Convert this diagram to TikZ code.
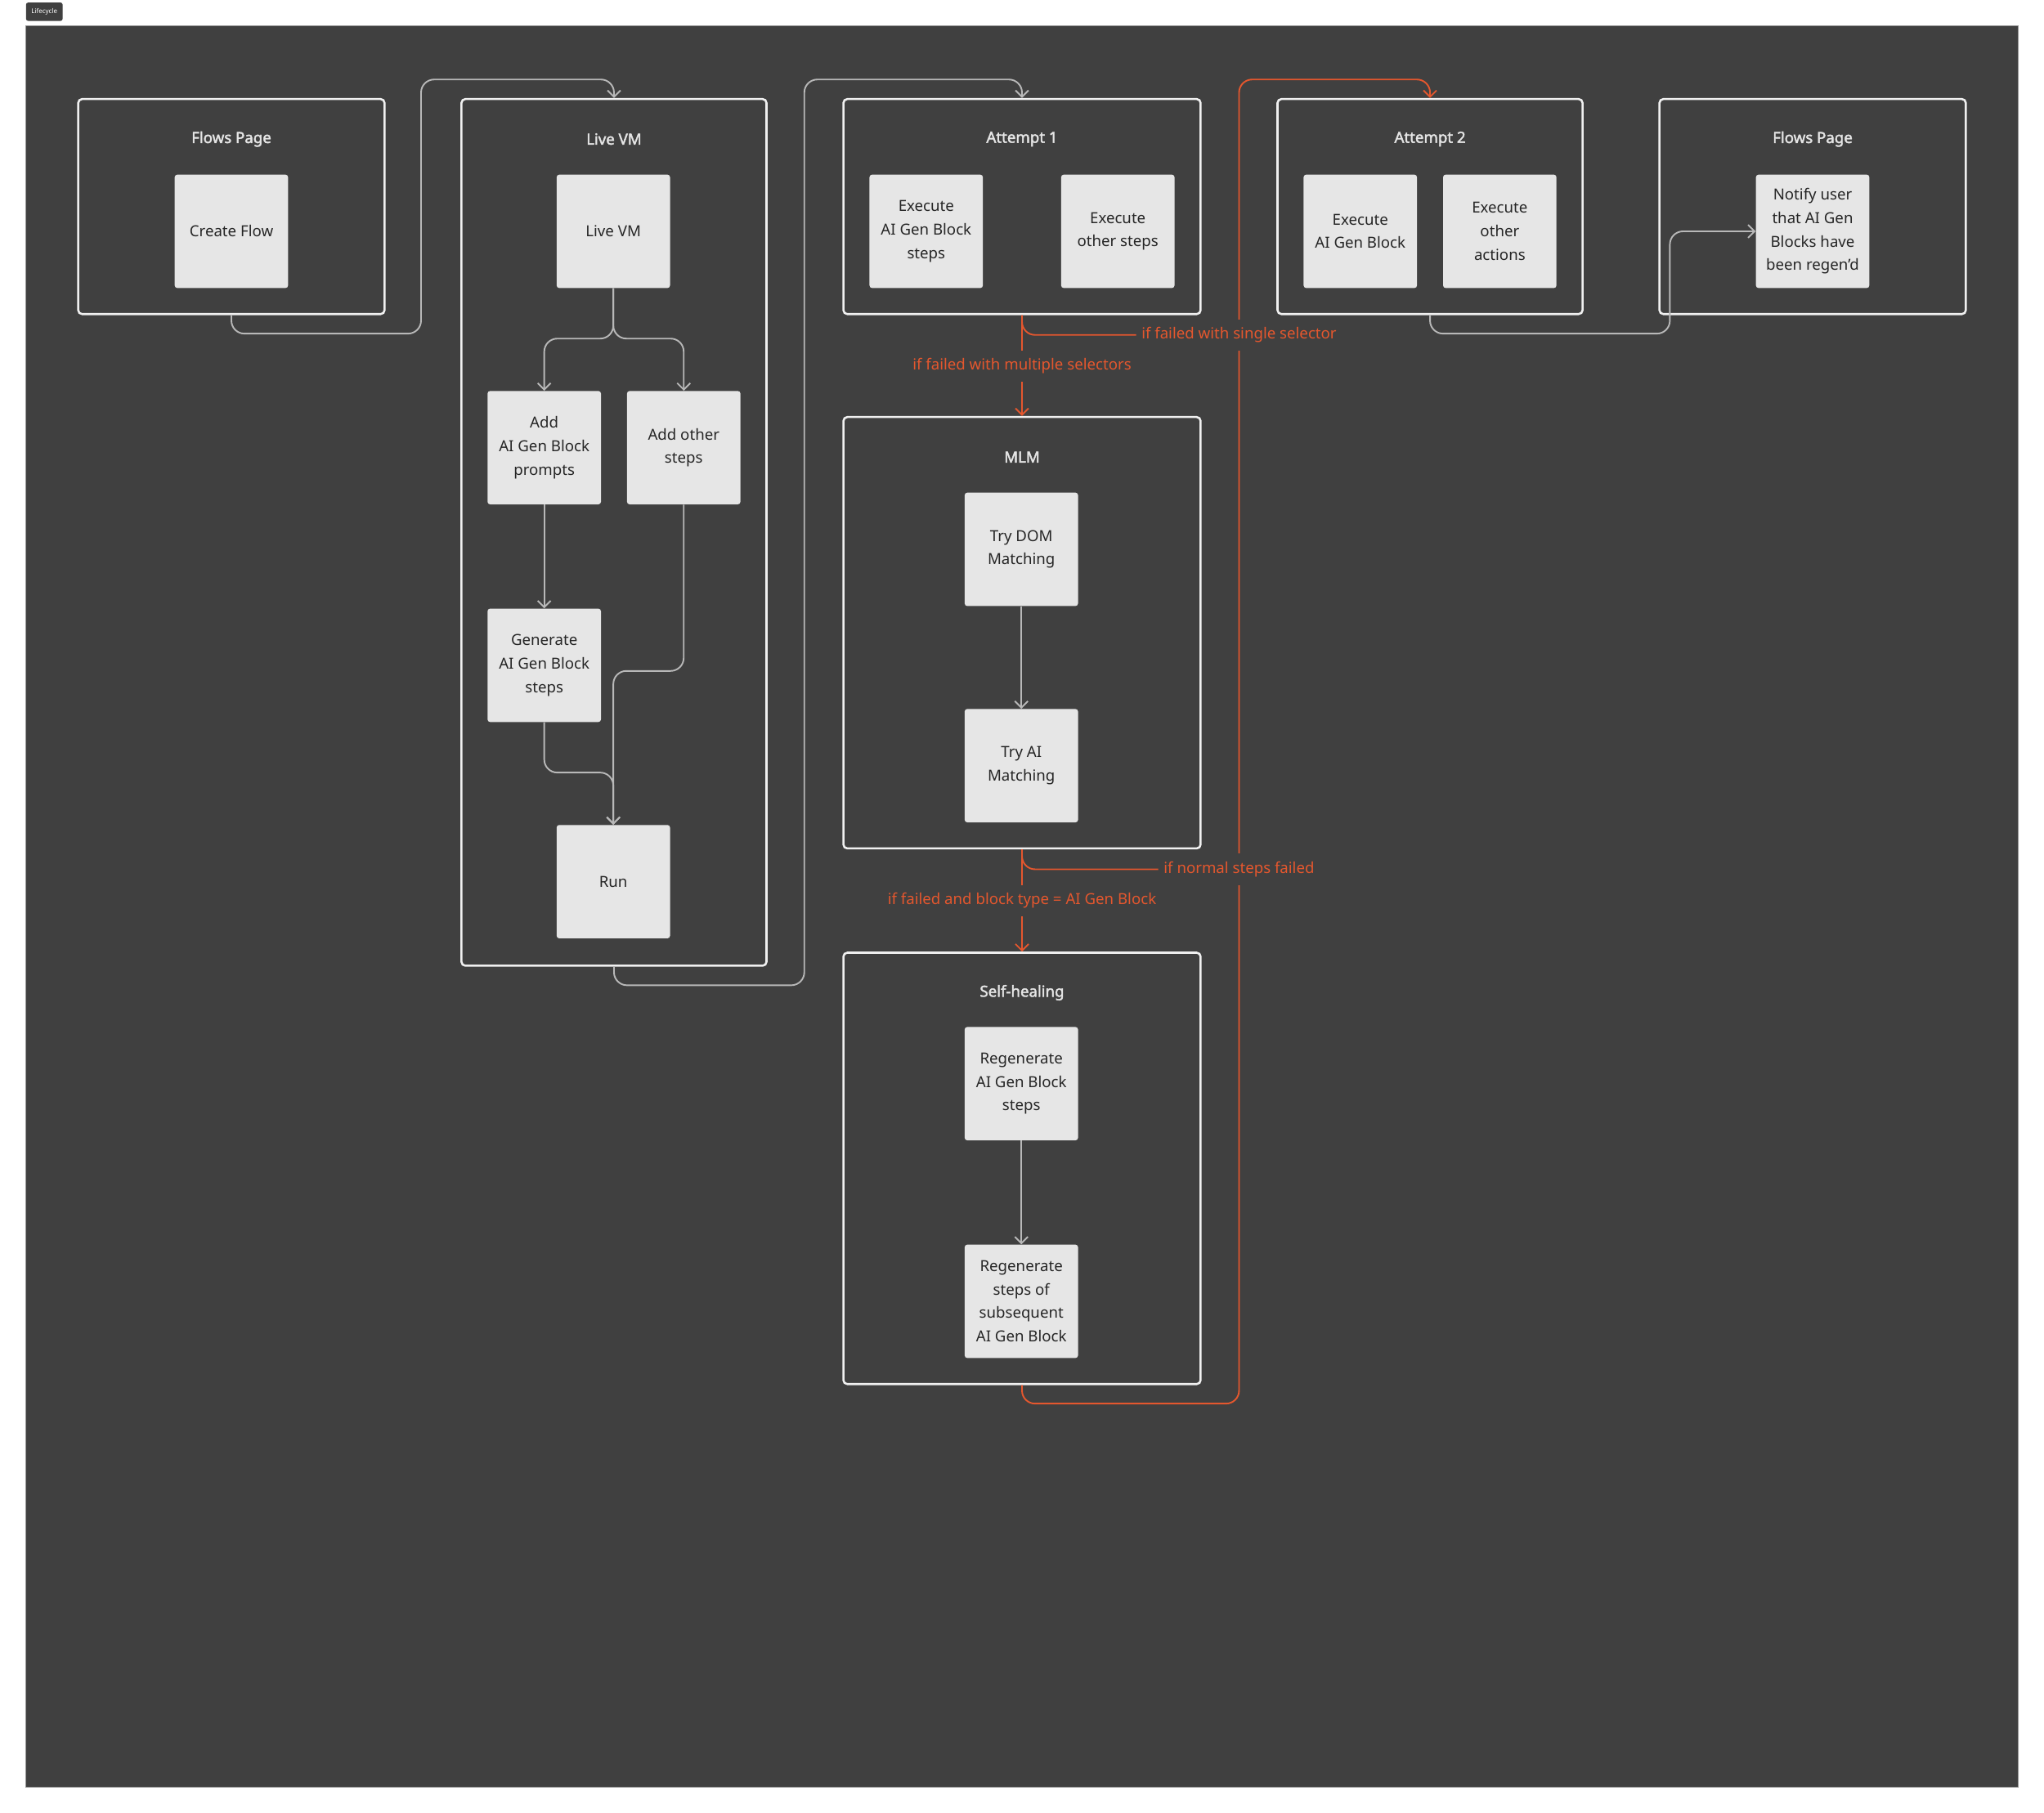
\documentclass[tikz,border=0pt]{standalone}
\usepackage{fontspec}
\setmainfont{Noto Sans}[AutoFakeBold=2.2]
\usetikzlibrary{arrows.meta}
\definecolor{canvas}{HTML}{404040}
\definecolor{boxfill}{HTML}{E6E6E6}
\definecolor{framecol}{HTML}{F0F0F0}
\definecolor{edgecol}{HTML}{B8B8B8}
\definecolor{failcol}{HTML}{E4572E}
\definecolor{inktext}{HTML}{262626}

\begin{document}
\begin{tikzpicture}[x=1pt, y=-1pt,
  group/.style 2 args={draw=framecol, line width=1.6pt, rounded corners=3pt, minimum width=#1, minimum height=#2, inner sep=0pt},
  title/.style={text=framecol!90!gray, font=\fontsize{11.7}{14}\selectfont\bfseries},
  stepbox/.style={fill=boxfill, rounded corners=2pt, minimum width=87pt, minimum height=87pt, inner sep=0pt, align=center, text=inktext, font=\fontsize{11.7}{18}\selectfont},
  edge/.style={draw=edgecol, line width=1.2pt, rounded corners=10pt, -{Straight Barb[length=5pt,width=10pt]}},
  failedge/.style={edge, draw=failcol},
  cond/.style={fill=canvas, text=failcol, font=\fontsize{11.7}{14}\selectfont, inner xsep=4pt, inner ysep=0pt, minimum height=24pt}]
\useasboundingbox (0,0) rectangle (1568,1391.1);
\fill[white] (0,0) rectangle (1568,1391.1);
\draw[fill=canvas, draw=gray!80, line width=0.5pt] (20,20) rectangle (1548,1371);
\node[fill=canvas, rounded corners=1.5pt, text=white, font=\fontsize{5}{6}\selectfont, minimum width=28pt, minimum height=14pt, inner sep=0pt] (tag) at (34,9) {Lifecycle};

\foreach \nm/\x/\y/\w/\h in {fp1/177.5/158.5/235/165, lvm/471/408.5/234/665, at1/784/158.5/274/165,
  at2/1097/158.5/234/165, fp2/1390.5/158.5/235/165, mlm/784/485.5/274/331, sh/784/896.5/274/331}
  \node[group={\w pt}{\h pt}] (\nm) at (\x,\y) {};
\foreach \nm/\txt in {fp1/Flows Page, lvm/Live VM, at1/Attempt 1, at2/Attempt 2, fp2/Flows Page, mlm/MLM, sh/Self-healing}
  \node[title] at ([yshift=-31.5pt]\nm.north) {\txt};

\foreach \nm/\x/\y/\txt in {cf/177.5/177.5/{Create Flow}, lv/470.5/177.5/{Live VM},
  aap/417.5/343.5/{Add\\AI Gen Block\\prompts}, aos/524.5/343.5/{Add other\\steps},
  gen/417.5/510.5/{Generate\\AI Gen Block\\steps}, run/470.5/676.5/{Run},
  eab/710.5/177.5/{Execute\\AI Gen Block\\steps}, eos/857.5/177.5/{Execute\\other steps},
  eab2/1043.5/177.5/{Execute\\AI Gen Block}, eoa/1150.5/177.5/{Execute\\other\\actions},
  nfy/1390.5/177.5/{Notify user\\that AI Gen\\Blocks have\\been regen'd},
  dom/783.5/421.5/{Try DOM\\Matching}, aim/783.5/587.5/{Try AI\\Matching},
  rab/783.5/831.5/{Regenerate\\AI Gen Block\\steps}, rsub/783.5/998.5/{Regenerate\\steps of\\subsequent\\AI Gen Block}}
  \node[stepbox] (\nm) at (\x,\y) {\txt};

\draw[edge] (fp1.south) |- (323,256) -- (323,61) -| (lvm.north);
\draw[edge] (lv.south) |- ([yshift=40pt]aap.north) -- (aap.north);
\draw[edge] (lv.south) |- ([yshift=40pt]aos.north) -- (aos.north);
\draw[edge] (aap) -- (gen);
\draw[edge] (aos.south) |- ([yshift=118pt]run.north) -- (run.north);
\draw[edge] (gen.south) |- ([yshift=40pt]run.north) -- (run.north);
\draw[edge] (lvm.south) |- (617,756) -- (617,61) -| (at1.north);
\draw[edge] (dom) -- (aim);
\draw[edge] (rab) -- (rsub);
\draw[edge] (at2.south) |- (1281,256) |- (nfy.west);

\draw[failedge] (at1) -- (mlm);
\draw[failedge] (mlm) -- (sh);
\draw[failedge] (sh.south) |- (950.5,1077) -- (950.5,61) -| (at2.north);
\node[cond] (multi) at (784,281) {if failed with multiple selectors};
\node[cond] (single) at (950.5,257) {if failed with single selector};
\node[cond] (normal) at (950.5,667) {if normal steps failed};
\node[cond] (aigen) at (784,691) {if failed and block type = AI Gen Block};
\draw[failedge, -] (at1.south) |- (single.west);
\draw[failedge, -] (mlm.south) |- (normal.west);
\end{tikzpicture}
\end{document}
